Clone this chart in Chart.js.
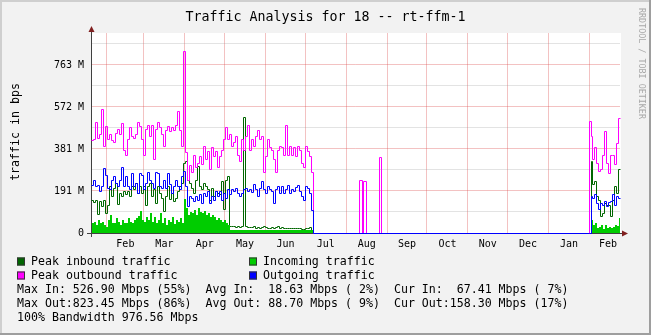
<!DOCTYPE html>
<html><head><meta charset="utf-8">
<script src="https://cdn.jsdelivr.net/npm/chart.js@4.4.0/dist/chart.umd.min.js"></script>
<style>html,body{margin:0;padding:0;background:#F2F2F2;overflow:hidden}canvas{display:block}</style>
</head><body>
<canvas id="c" width="651" height="335"></canvas>
<script>
// ---------- text ----------
const titleText = 'Traffic Analysis for 18 -- rt-ffm-1';
const yAxisTitle = 'traffic in bps';
const sideNote = 'RRDTOOL / TOBI OETIKER';
const seriesNames = ['Peak inbound traffic', 'Incoming traffic', 'Peak outbound traffic', 'Outgoing traffic'];
const seriesColors = ['#006600', '#00CC00', '#FF00FF', '#0000FF'];
const statsIn  = ['Max In: 526.90 Mbps (55%)', 'Avg In:  18.63 Mbps ( 2%)', 'Cur In:  67.41 Mbps ( 7%)'];
const statsOut = ['Max Out:823.45 Mbps (86%)', 'Avg Out: 88.70 Mbps ( 9%)', 'Cur Out:158.30 Mbps (17%)'];
const bandwidthLine = '100% Bandwidth 976.56 Mbps';

// ---------- axes ----------
const yTickValues = [0, 200, 400, 600, 800];          // in 1e6 bps
const yTickLabels = ['0', '191 M', '381 M', '572 M', '763 M'];
const yMinorValues = [100, 300, 500, 700, 900];
const yMax = 952;
const xMax = 400;                                        // days shown
const monthStarts = [12, 40, 71, 101, 132, 162, 193, 224, 254, 285, 315, 346, 377, 405];
const monthLabels = ['Feb', 'Mar', 'Apr', 'May', 'Jun', 'Jul', 'Aug', 'Sep', 'Oct', 'Nov', 'Dec', 'Jan', 'Feb'];

// ---------- data (1e6 bps) ----------
const seg1Start = 0.756, seg1Step = 1.512;   // first block, Jan..early Jul
const peakOut1 = [440,445,525,452,470,590,414,505,443,467,440,433,476,495,467,519,395,367,443,500,
  457,448,470,524,505,443,371,495,510,457,514,352,495,524,500,467,410,490,505,481,
  500,490,510,576,490,410,863,381,252,319,286,371,314,333,362,324,410,352,386,300,
  405,362,386,314,362,395,443,500,443,467,410,433,457,371,338,443,395,457,514,395,
  443,410,457,490,443,457,286,362,443,405,395,348,286,395,410,405,371,514,371,410,
  371,405,362,414,395,333,310,414,386,362,290];
const out1 = [224,249,221,224,197,221,308,276,213,205,252,268,237,221,252,313,221,268,221,205,
  284,221,237,189,284,276,205,237,287,252,237,213,287,284,221,213,252,213,284,229,
  189,221,252,221,205,268,292,221,125,173,165,149,173,157,181,141,189,173,197,141,
  173,157,197,173,197,157,189,165,205,181,205,197,213,186,173,189,205,213,197,205,
  192,229,205,173,213,244,205,189,221,205,197,141,205,221,189,221,189,205,224,186,
  205,197,218,224,197,173,157,221,213,189,106];
const peakIn1 = [157,144,154,86,149,125,157,94,129,221,173,213,237,138,189,173,197,181,197,173,
  221,205,237,189,221,186,221,133,221,237,173,208,141,221,189,165,101,173,221,160,
  186,149,165,197,221,237,332,340,252,237,213,189,252,316,221,205,237,221,205,157,
  213,173,197,189,181,244,110,252,268,30,33,30,27,30,27,30,552,33,27,27,
  24,30,22,27,22,27,30,24,22,22,24,22,27,30,22,27,20,22,20,22,
  22,20,20,22,20,19,19,20,20,27,10];
const in1 = [49,54,38,62,46,54,38,30,62,86,49,46,70,54,38,62,46,49,70,54,
  46,62,70,81,106,62,54,78,62,94,54,78,46,62,94,49,70,38,62,54,
  78,43,62,54,70,49,160,117,86,101,94,110,86,117,101,94,106,86,97,78,
  86,78,62,70,62,54,62,46,38,14,13,15,14,13,14,16,14,13,12,
  14,13,15,14,13,12,14,13,14,12,13,14,13,12,14,13,12,13,14,13,
  12,13,12,14,13,12,13,12,13,14,13,12];
// idle period: zero line, with three short outbound bursts in August
const gapDays    = [168, 203.4, 205.2, 206.4, 208.2, 217.8, 219.3];
const gapPeakOut = [0,   252,   0,     243,   0,     360,   0];
const lowInDays = [207, 245];
const lowIn     = [2, 2];
const seg2Start = 376.56, seg2Step = 1.512;  // last block, Feb
const peakOut2 = [533,459,350,405,333,292,300,371,482,333,284,371,370,324,427,546];
const out2     = [0,173,165,181,141,110,141,129,149,125,143,149,181,129,176,165];
const peakIn2  = [0,340,229,244,173,157,78,94,141,133,133,78,157,221,186,303];
const in2      = [0,62,38,49,22,30,38,18,38,22,30,22,30,38,35,70];

// ---------- builders ----------
const seg = (vals, start, step) => vals.map((v, i) => ({x: start + i * step, y: v}));
const closeAt = (pts) => pts.concat([{x: xMax, y: pts[pts.length - 1].y}]);
const ptsPeakOut = closeAt([].concat(seg(peakOut1, seg1Start, seg1Step),
  gapDays.map((d, i) => ({x: d, y: gapPeakOut[i]})), seg(peakOut2, seg2Start, seg2Step)));
const ptsOut = closeAt([].concat(seg(out1, seg1Start, seg1Step),
  [{x: gapDays[0], y: 0}], seg(out2, seg2Start, seg2Step)));
const ptsPeakIn = closeAt([].concat(seg(peakIn1, seg1Start, seg1Step),
  [{x: gapDays[0], y: 0}], seg(peakIn2, seg2Start, seg2Step)));
const ptsIn = closeAt([].concat(seg(in1, seg1Start, seg1Step),
  [{x: gapDays[0], y: 0}, {x: gapDays[0] + 0.5, y: null}],
  lowInDays.map((d, i) => ({x: d, y: lowIn[i]})), [{x: lowInDays[1] + 0.5, y: null}],
  seg(in2, seg2Start, seg2Step)));

const labelDays = monthLabels.map((m, i) => (monthStarts[i] + monthStarts[i + 1]) / 2);
const MONO = '"DejaVu Sans Mono", monospace';
const MGRID = 'rgba(222,80,80,0.35)';
const GRID = 'rgba(143,143,143,0.25)';

const rrdPlugin = {
  id: 'rrd',
  afterDatasetsUpdate(chart) {
    // snap computed pixel positions so 1px lines render crisp like rrdtool
    chart.data.datasets.forEach((ds, i) => {
      const meta = chart.getDatasetMeta(i);
      const area = !!ds.fill;
      meta.data.forEach(p => {
        if (!isFinite(p.y)) return;
        if (area) { p.x = Math.round(p.x); p.y = Math.round(p.y); }
        else { p.x = Math.floor(p.x) + 0.5; p.y = Math.floor(p.y) + 0.5; }
      });
      if (meta.dataset) delete meta.dataset._path;
    });
  },
  beforeDraw(chart) {
    const ctx = chart.ctx, a = chart.chartArea;
    ctx.save();
    ctx.fillStyle = '#F2F2F2';
    ctx.fillRect(0, 0, 651, 335);
    ctx.fillStyle = '#CFCFCF';
    ctx.fillRect(0, 0, 651, 2); ctx.fillRect(0, 0, 2, 335);
    ctx.fillStyle = '#9E9E9E';
    ctx.fillRect(0, 333, 651, 2); ctx.fillRect(649, 0, 2, 335);
    ctx.fillStyle = '#FFFFFF';
    ctx.fillRect(a.left, a.top, a.right - a.left + 1, a.bottom - a.top);
    ctx.restore();
  },
  beforeDatasetsDraw(chart) {
    const ctx = chart.ctx, a = chart.chartArea;
    ctx.save();
    ctx.strokeStyle = '#404040';
    ctx.lineWidth = 1;
    ctx.beginPath();
    ctx.moveTo(a.left - 4, a.bottom + 0.5); ctx.lineTo(a.right + 2, a.bottom + 0.5);
    ctx.moveTo(a.left + 0.5, a.bottom + 4); ctx.lineTo(a.left + 0.5, a.top - 2);
    ctx.stroke();
    ctx.restore();
  },
  afterDraw(chart) {
    const ctx = chart.ctx, a = chart.chartArea;
    ctx.save();
    ctx.fillStyle = '#801F1F';
    ctx.beginPath();
    ctx.moveTo(a.left + 0.5, a.top - 7); ctx.lineTo(a.left - 2.5, a.top - 1); ctx.lineTo(a.left + 3.5, a.top - 1);
    ctx.closePath(); ctx.fill();
    ctx.beginPath();
    ctx.moveTo(a.right + 8, a.bottom + 0.5); ctx.lineTo(a.right + 2, a.bottom - 2.5); ctx.lineTo(a.right + 2, a.bottom + 3.5);
    ctx.closePath(); ctx.fill();
    ctx.fillStyle = '#000';
    ctx.font = '13.3px ' + MONO;
    ctx.textAlign = 'center'; ctx.textBaseline = 'alphabetic';
    ctx.fillText(titleText, 325.5, 21);
    ctx.save();
    ctx.translate(16, 132); ctx.rotate(-Math.PI / 2);
    ctx.font = '11.6px ' + MONO; ctx.textBaseline = 'middle';
    ctx.fillText(yAxisTitle, 0, 0);
    ctx.restore();
    ctx.save();
    ctx.translate(641, 8); ctx.rotate(Math.PI / 2);
    ctx.font = '8.4px ' + MONO; ctx.textAlign = 'left'; ctx.textBaseline = 'middle';
    ctx.fillStyle = '#A8A8A8';
    ctx.fillText(sideNote, 0, 0);
    ctx.restore();
    ctx.font = '11.6px ' + MONO; ctx.textAlign = 'left'; ctx.textBaseline = 'middle';
    const rows = [261.5, 275.5];
    const cols = [17, 249];
    seriesNames.forEach((n, i) => {
      const x = cols[i % 2], y = rows[Math.floor(i / 2)];
      ctx.fillStyle = seriesColors[i];
      ctx.fillRect(x, y - 4, 8, 8);
      ctx.strokeStyle = '#333'; ctx.lineWidth = 1;
      ctx.strokeRect(x + 0.5, y - 3.5, 7, 7);
      ctx.fillStyle = '#000';
      ctx.fillText(n, x + 14, y);
    });
    ctx.fillText(statsIn.join('  '), 17, 289.5);
    ctx.fillText(statsOut.join('  '), 17, 303.5);
    ctx.fillText(bandwidthLine, 17, 317.5);
    ctx.restore();
  }
};

new Chart(document.getElementById('c'), {
  type: 'line',
  data: {
    datasets: [
      {label: seriesNames[3], data: ptsOut, borderColor: seriesColors[3], borderWidth: 1, order: 0, clip: 4},
      {label: seriesNames[2], data: ptsPeakOut, borderColor: seriesColors[2], borderWidth: 1, order: 1, clip: 4},
      {label: seriesNames[1], data: ptsIn, borderColor: 'rgba(0,0,0,0)', borderWidth: 0,
       backgroundColor: seriesColors[1], fill: 'origin', order: 2},
      {label: seriesNames[0], data: ptsPeakIn, borderColor: seriesColors[0], borderWidth: 1, order: 3, clip: 4}
    ]
  },
  options: {
    responsive: false,
    animation: false,
    devicePixelRatio: 1,
    parsing: false,
    normalized: true,
    layout: {padding: {top: 33, right: 31, left: 0, bottom: 0}},
    elements: {
      point: {radius: 0, hoverRadius: 0},
      line: {stepped: true, tension: 0, borderJoinStyle: 'miter', borderCapStyle: 'butt'}
    },
    plugins: {legend: {display: false}, tooltip: {enabled: false}, title: {display: false}},
    scales: {
      x: {
        type: 'linear', min: 0, max: xMax,
        afterFit: s => { s.height = 102; },
        afterBuildTicks: s => {
          const t = monthStarts.filter(d => d <= xMax).concat(labelDays).sort((p, q) => p - q);
          s.ticks = t.map(v => ({value: v}));
        },
        border: {display: false},
        grid: {
          drawTicks: false,
          color: c => monthStarts.includes(c.tick.value) ? MGRID : 'rgba(0,0,0,0)',
          lineWidth: 1
        },
        ticks: {
          autoSkip: false, maxRotation: 0, minRotation: 0, padding: 5, color: '#000',
          font: {family: MONO, size: 10},
          callback: v => { const i = labelDays.indexOf(v); return i >= 0 ? monthLabels[i] : ''; }
        }
      },
      y: {
        type: 'linear', min: 0, max: yMax,
        afterFit: s => { s.width = 91; },
        afterBuildTicks: s => {
          s.ticks = yTickValues.concat(yMinorValues).sort((p, q) => p - q).map(v => ({value: v}));
        },
        border: {display: false},
        grid: {
          drawTicks: false,
          color: c => c.tick.value === 0 ? 'rgba(0,0,0,0)' : (yTickValues.includes(c.tick.value) ? MGRID : GRID),
          lineWidth: 1
        },
        ticks: {
          padding: 7, color: '#000', font: {family: MONO, size: 10},
          callback: v => { const i = yTickValues.indexOf(v); return i >= 0 ? yTickLabels[i] : ''; }
        }
      }
    }
  },
  plugins: [rrdPlugin]
});
</script>
</body></html>
